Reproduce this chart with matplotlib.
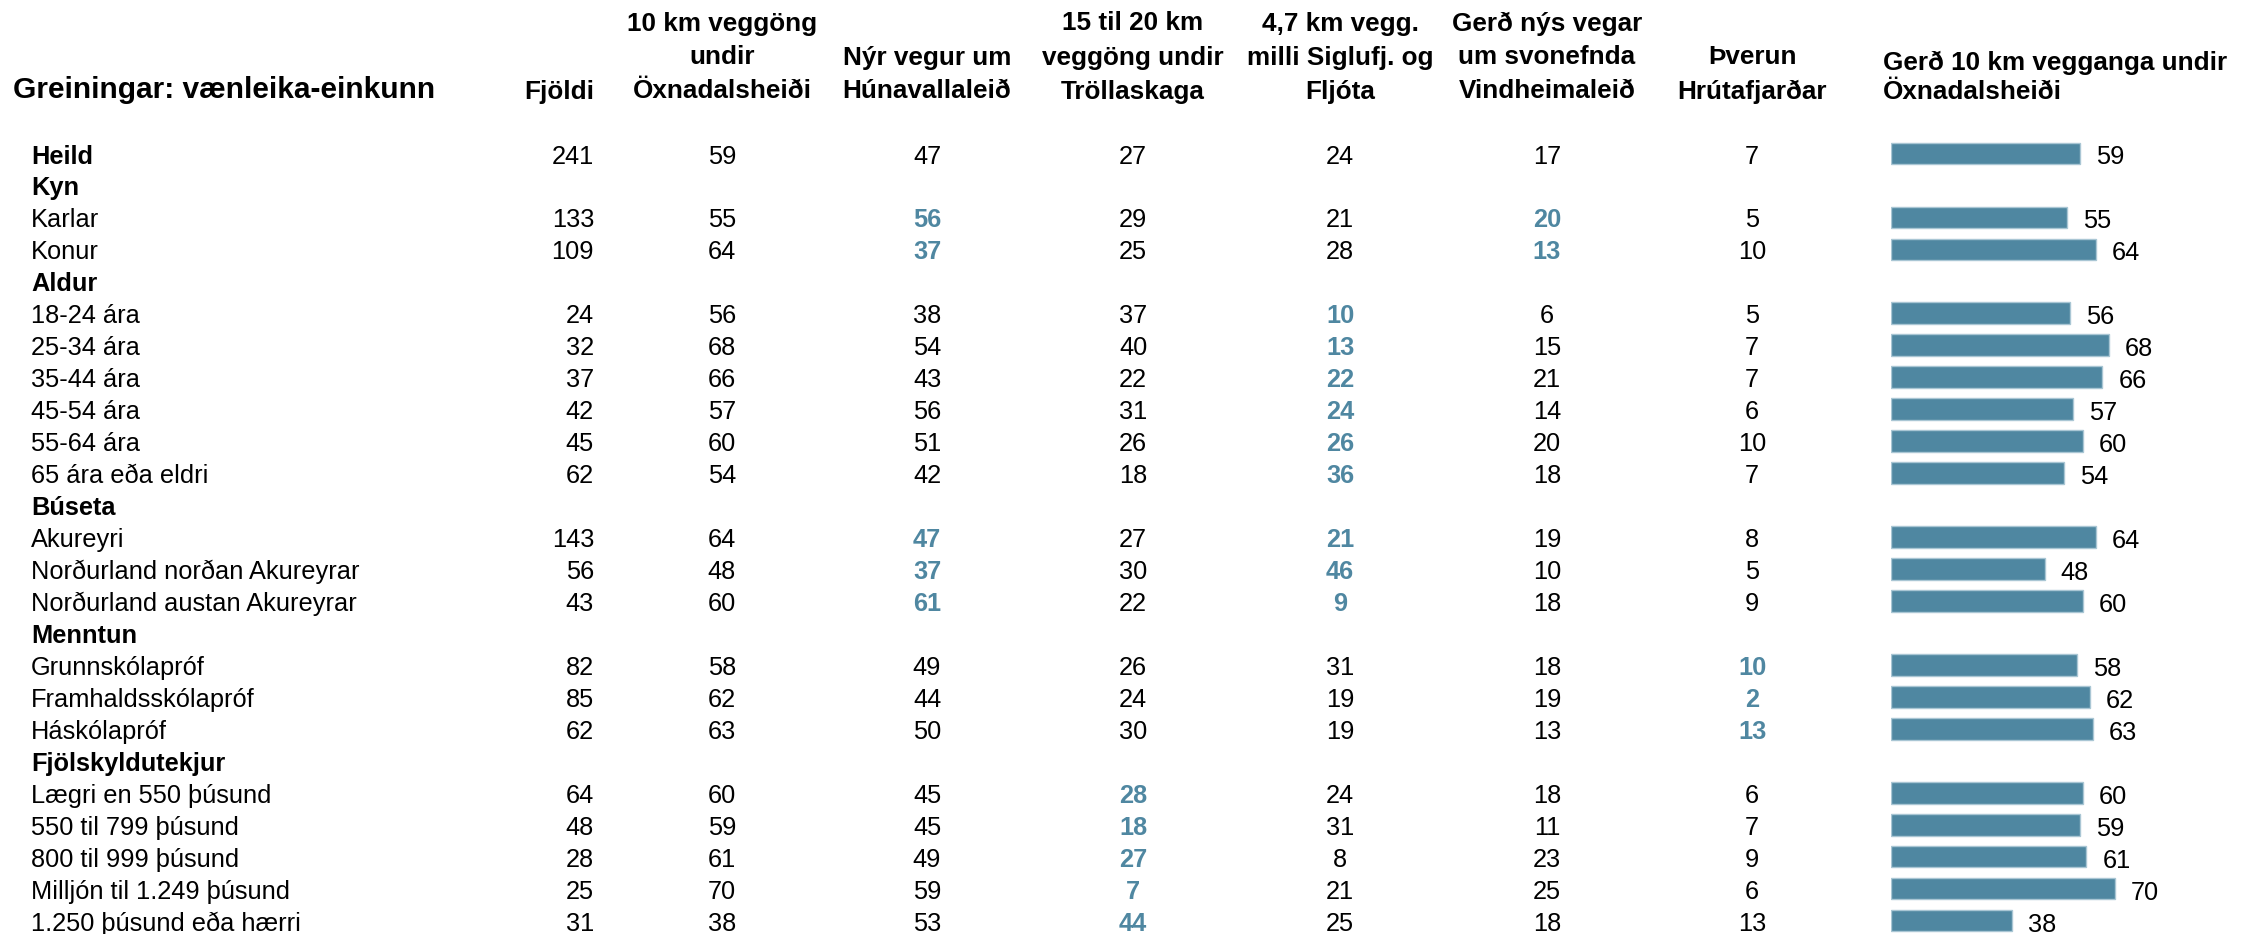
import matplotlib
matplotlib.use("Agg")
import matplotlib.pyplot as plt

plt.rcParams['font.family'] = ['Liberation Sans', 'DejaVu Sans']

# ---------------- data ----------------
row_labels = ["Heild", "Kyn", "Karlar", "Konur", "Aldur", "18-24 ára", "25-34 ára",
              "35-44 ára", "45-54 ára", "55-64 ára", "65 ára eða eldri", "Búseta",
              "Akureyri", "Norðurland norðan Akureyrar", "Norðurland austan Akureyrar",
              "Menntun", "Grunnskólapróf", "Framhaldsskólapróf", "Háskólapróf",
              "Fjölskyldutekjur", "Lægri en 550 þúsund", "550 til 799 þúsund",
              "800 til 999 þúsund", "Milljón til 1.249 þúsund", "1.250 þúsund eða hærri"]
group_rows = ["Heild", "Kyn", "Aldur", "Búseta", "Menntun", "Fjölskyldutekjur"]

fjoldi = [241, None, 133, 109, None, 24, 32, 37, 42, 45, 62, None, 143, 56, 43,
          None, 82, 85, 62, None, 64, 48, 28, 25, 31]
oxnadalsheidi = [59, None, 55, 64, None, 56, 68, 66, 57, 60, 54, None, 64, 48, 60,
                 None, 58, 62, 63, None, 60, 59, 61, 70, 38]
hunavallaleid = [47, None, 56, 37, None, 38, 54, 43, 56, 51, 42, None, 47, 37, 61,
                 None, 49, 44, 50, None, 45, 45, 49, 59, 53]
trollaskagi = [27, None, 29, 25, None, 37, 40, 22, 31, 26, 18, None, 27, 30, 22,
               None, 26, 24, 30, None, 28, 18, 27, 7, 44]
siglufjordur = [24, None, 21, 28, None, 10, 13, 22, 24, 26, 36, None, 21, 46, 9,
                None, 31, 19, 19, None, 24, 31, 8, 21, 25]
vindheimaleid = [17, None, 20, 13, None, 6, 15, 21, 14, 20, 18, None, 19, 10, 18,
                 None, 18, 19, 13, None, 18, 11, 23, 25, 18]
hrutafjordur = [7, None, 5, 10, None, 5, 7, 7, 6, 10, 7, None, 8, 5, 9,
                None, 10, 2, 13, None, 6, 7, 9, 6, 13]

col_headers = [
    ["10 km veggöng", "undir", "Öxnadalsheiði"],
    ["Nýr vegur um", "Húnavallaleið"],
    ["15 til 20 km", "veggöng undir", "Tröllaskaga"],
    ["4,7 km vegg.", "milli Siglufj. og", "Fljóta"],
    ["Gerð nýs vegar", "um svonefnda", "Vindheimaleið"],
    ["Þverun", "Hrútafjarðar"],
]
col_values = [oxnadalsheidi, hunavallaleid, trollaskagi, siglufjordur,
              vindheimaleid, hrutafjordur]
# groups whose values are highlighted in each column
highlight_groups = [[], ["Kyn", "Búseta"], ["Fjölskyldutekjur"], ["Aldur", "Búseta"],
                    ["Kyn"], ["Menntun"]]

title = "Greiningar: vænleika-einkunn"
count_header = "Fjöldi"
bar_header = ["Gerð 10 km vegganga undir", "Öxnadalsheiði"]
bar_values = oxnadalsheidi

# ---------------- layout ----------------
W, H = 2253, 934
BLUE = "#4f87a1"
FS = 18.3
HFS = 18.8

fig = plt.figure(figsize=(W / 100, H / 100), dpi=100)
ax = fig.add_axes([0, 0, 1, 1])
ax.set_xlim(0, W)
ax.set_ylim(H, 0)
ax.axis("off")

row0, dy = 155, 31.96
row_y = [row0 + i * dy for i in range(len(row_labels))]
cap = 8.5  # half cap height, to place baselines

col_x = [722, 927, 1133, 1340, 1547, 1752]
count_x = 594

# header
ax.text(13, 98.5, title, fontsize=21.5, fontweight="bold", ha="left", va="baseline")
ax.text(count_x, 98.5, count_header, fontsize=HFS, fontweight="bold", ha="right", va="baseline")
for x, lines in zip(col_x, col_headers):
    n = len(lines)
    for k, line in enumerate(lines):
        yb = 98.5 - (n - 1 - k) * 34
        ax.text(x, yb, line, fontsize=HFS, fontweight="bold", ha="center", va="baseline")
bx0 = 1883
ax.text(bx0, 70, bar_header[0], fontsize=HFS, fontweight="bold", ha="left", va="baseline")
ax.text(bx0, 99, bar_header[1], fontsize=HFS, fontweight="bold", ha="left", va="baseline")

# rows
current_group = None
for i, lab in enumerate(row_labels):
    y = row_y[i] + cap
    is_group = lab in group_rows
    if is_group:
        current_group = lab
    ax.text(31, y, lab, fontsize=FS, fontweight="bold" if is_group else "normal",
            ha="left", va="baseline")
    if fjoldi[i] is not None:
        ax.text(count_x, y, str(fjoldi[i]), fontsize=FS, ha="right", va="baseline")
    for c, (x, vals) in enumerate(zip(col_x, col_values)):
        v = vals[i]
        if v is None:
            continue
        hl = current_group in highlight_groups[c]
        ax.text(x, y, str(v), fontsize=FS, ha="center", va="baseline",
                fontweight="bold" if hl else "normal", color=BLUE if hl else "black")

# bars
bar_left = 1890.5
px_per_unit = 3.21
axb = fig.add_axes([bar_left / W, 0, (W - bar_left) / W, 1])
axb.set_xlim(0, (W - bar_left) / px_per_unit)
axb.set_ylim(H, 0)
axb.axis("off")
idx = [i for i, v in enumerate(bar_values) if v is not None]
ys = [row_y[i] - 1.5 for i in idx]
vs = [bar_values[i] for i in idx]
axb.barh(ys, vs, height=21.7, color=BLUE, edgecolor="#a9c6d4", linewidth=1.0)
for y, v in zip(ys, vs):
    axb.text(v + 16 / px_per_unit, y + 2.5 + cap, str(v), fontsize=FS,
             ha="left", va="baseline")

fig.savefig("out.png", dpi=100)
